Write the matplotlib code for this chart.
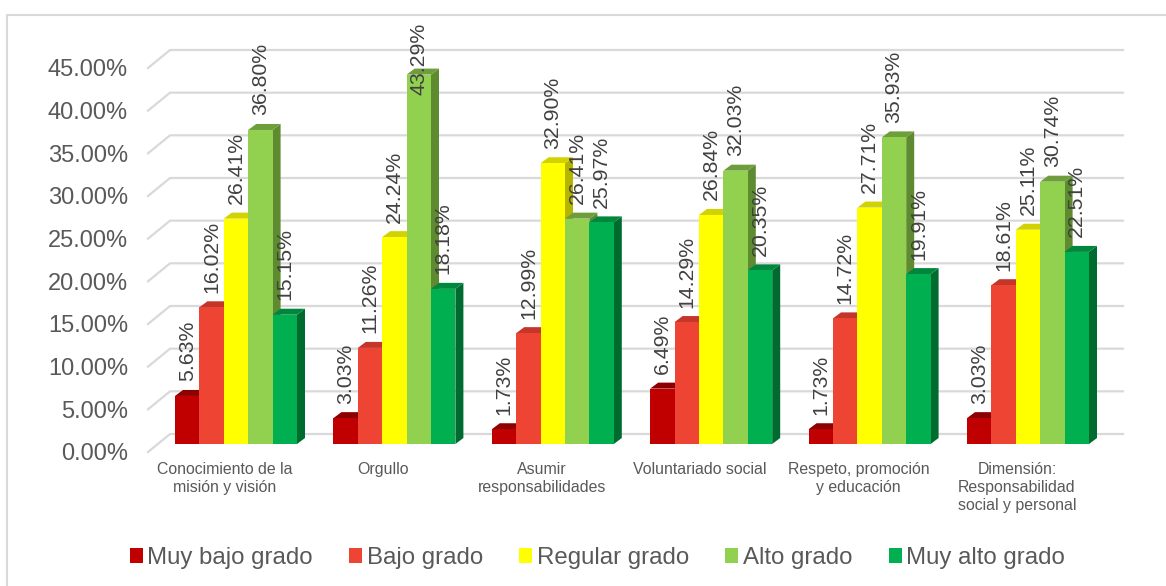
import numpy as np
import matplotlib.pyplot as plt
from matplotlib.patches import Polygon, Rectangle, Patch

plt.rcParams['font.family'] = ['Liberation Sans', 'DejaVu Sans']

# Datos del gráfico
categorias = ["Conocimiento de la\nmisión y visión", "Orgullo",
              "Asumir\nresponsabilidades", "Voluntariado social",
              "Respeto, promoción\ny educación",
              "Dimensión:\nResponsabilidad\nsocial y personal"]
series = ["Muy bajo grado", "Bajo grado", "Regular grado", "Alto grado", "Muy alto grado"]
muy_bajo = [5.63, 3.03, 1.73, 6.49, 1.73, 3.03]
bajo = [16.02, 11.26, 12.99, 14.29, 14.72, 18.61]
regular = [26.41, 24.24, 32.90, 26.84, 27.71, 25.11]
alto = [36.80, 43.29, 26.41, 32.03, 35.93, 30.74]
muy_alto = [15.15, 18.18, 25.97, 20.35, 19.91, 22.51]
valores = [muy_bajo, bajo, regular, alto, muy_alto]
ticks_y = np.arange(0, 46, 5)

# Colores: frente, lado y tapa (efecto 3D)
colores_frente = ['#C00000', '#EE4433', '#FFFF00', '#92D050', '#00B050']
colores_lado = ['#7A0000', '#A8281E', '#B5B500', '#5E8A30', '#006B2F']
colores_tapa = ['#8E0000', '#C4352A', '#D2D200', '#6E9E3C', '#00873D']

W, H, DPI = 1166, 586, 100
PX_X = 158.4          # px por categoría
PX_Y = 384 / 45       # px por punto porcentual

fig = plt.figure(figsize=(W / DPI, H / DPI), dpi=DPI)
x_izq = (148 - 236) / PX_X
x_der = (1123 - 236) / PX_X
ax = fig.add_axes([148 / W, 134 / H, (x_der - x_izq) * PX_X / W, 384 / H])
ax.set_xlim(x_izq, x_der)
ax.set_ylim(0, 45)
ax.patch.set_visible(False)
for s in ax.spines.values():
    s.set_visible(False)

ax.set_yticks(ticks_y)
ax.yaxis.set_major_formatter(lambda v, p: f"{v:.2f}%")
ax.tick_params(axis='y', length=0, pad=14.4, labelsize=17, labelcolor='#595959')
ax.set_xticks(np.arange(len(categorias)) - 11 / PX_X, categorias)
ax.tick_params(axis='x', length=0, pad=7, labelsize=11.4, labelcolor='#595959')
for t in ax.get_xticklabels():
    t.set_linespacing(1.25)

# Rejilla: pared lateral + pared de fondo
dx_fondo = 22 / PX_X
dy_fondo = 18 / PX_Y
for v in ticks_y:
    ax.plot([x_izq, x_izq + dx_fondo, x_der], [v, v + dy_fondo, v + dy_fondo],
            color='#D9D9D9', lw=1.6, clip_on=False, zorder=1)

# Barras 3D
ancho = 24.4 / PX_X
base = 8 / PX_Y
prof_x = 8 / PX_X
prof_y = 6 / PX_Y
gap_lab = 14.5 / PX_Y
tope = (452 - 23) / PX_Y
largo_lab = 72 / PX_Y
x_cat = np.arange(len(categorias))

for j, vals in enumerate(valores):
    xs = x_cat + (j - 2.5) * ancho
    z = 3 + 2 * j
    for x0, v in zip(xs, vals):
        y1 = base + v
        lado = Polygon([(x0 + ancho, base), (x0 + ancho + prof_x, base + prof_y),
                        (x0 + ancho + prof_x, y1 + prof_y), (x0 + ancho, y1)],
                       closed=True, facecolor=colores_lado[j], edgecolor='none',
                       zorder=z, clip_on=False)
        tapa = Polygon([(x0, y1), (x0 + prof_x, y1 + prof_y),
                        (x0 + ancho + prof_x, y1 + prof_y), (x0 + ancho, y1)],
                       closed=True, facecolor=colores_tapa[j], edgecolor='none',
                       zorder=z, clip_on=False)
        ax.add_patch(lado)
        ax.add_patch(tapa)
    ax.bar(xs, vals, width=ancho, bottom=base, align='edge',
           color=colores_frente[j], edgecolor='none', zorder=z + 1, clip_on=False)
    for x0, v in zip(xs, vals):
        y_lab = base + v + gap_lab
        va = 'bottom'
        if y_lab + largo_lab > tope:
            y_lab, va = tope, 'top'
        ax.text(x0 + ancho / 2, y_lab, f"{v:.2f}%", rotation=90, ha='center', va=va,
                fontsize=15.3, color='#404040', zorder=20, clip_on=False)

# Leyenda
handles = [Patch(facecolor=c, edgecolor='none') for c in colores_frente]
fig.legend(handles, series, loc='center', bbox_to_anchor=(597.5 / W, (586 - 558) / H),
           ncol=5, frameon=False, fontsize=17.3, handlelength=0.54, handleheight=0.54,
           handletextpad=0.2, columnspacing=1.5, labelcolor='#595959',
           borderpad=0, borderaxespad=0)

# Borde del gráfico
fig.add_artist(Rectangle((7 / W, -0.05), 1.1, (586 - 15) / H + 0.05,
                         transform=fig.transFigure, fill=False,
                         edgecolor='#D9D9D9', lw=1.5))

fig.savefig('out.png', dpi=DPI)
